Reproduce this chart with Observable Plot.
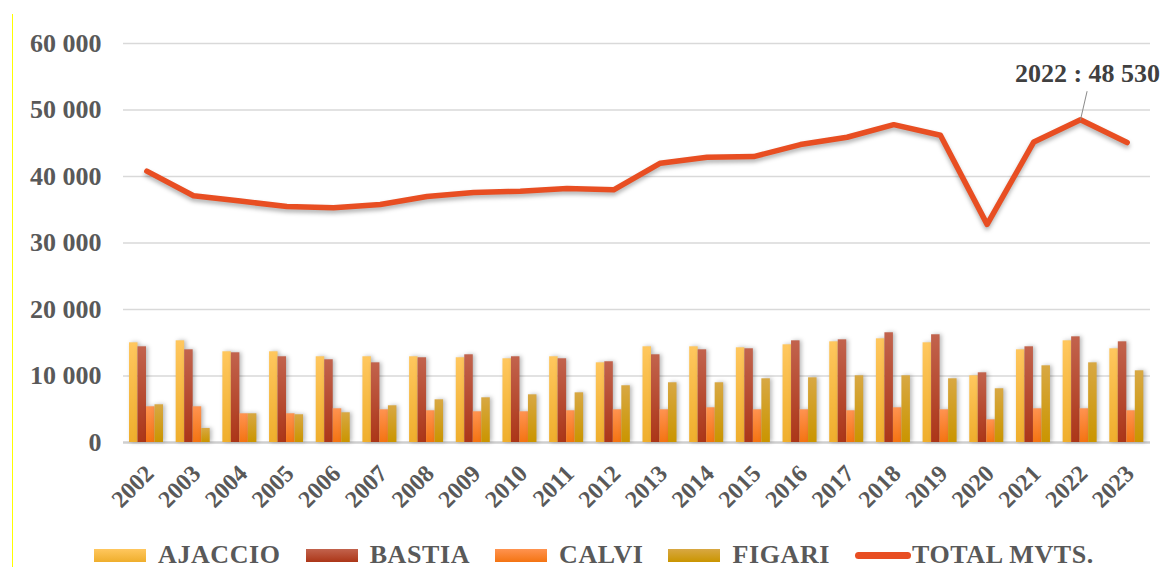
<!DOCTYPE html>
<html>
<head>
<meta charset="utf-8">
<script src="https://cdn.jsdelivr.net/npm/d3@7"></script>
<script src="https://cdn.jsdelivr.net/npm/@observablehq/plot@0.6"></script>
<style>
  body { margin: 0; background: #ffffff; }
  #wrap { position: relative; width: 1163px; height: 567px; font-family: "Liberation Serif", "Times New Roman", serif; }
  #yline { position: absolute; left: 12px; top: 14px; width: 1px; height: 553px; background: #ffff00; }
  #chart { position: absolute; left: 0; top: 0; }
  #legend { position: absolute; left: 94px; top: 538px; height: 34px; display: flex; align-items: center;
            font-size: 26px; line-height: 34px; font-weight: bold; color: #595959; white-space: nowrap; letter-spacing: 0.6px; }
  .item { display: flex; align-items: center; margin-right: 25px; }
  .sw { width: 52px; height: 13px; margin-right: 12px; }
  .ln { width: 56px; height: 7px; border-radius: 3.5px; margin-right: 1px; background: #E84E22; }
</style>
</head>
<body>
<div id="wrap">
  <div id="chart"></div>
  <div id="yline"></div>
  <div id="legend"></div>
</div>
<script>
// ---- data ----
const years = ["2002","2003","2004","2005","2006","2007","2008","2009","2010","2011","2012",
               "2013","2014","2015","2016","2017","2018","2019","2020","2021","2022","2023"];
const ajaccio = [14990,15290,13640,13640,12890,12890,12890,12740,12590,12890,11980,
                 14390,14390,14240,14690,15140,15590,14990,10030,13940,15290,14090];
const bastia  = [14390,13940,13490,12890,12440,11980,12740,13190,12890,12590,12140,
                 13190,13940,14090,15290,15440,16500,16200,10480,14390,15890,15140];
const calvi   = [5370,5370,4320,4320,5070,4920,4770,4620,4620,4770,4920,
                 4920,5220,4920,4920,4770,5220,4920,3410,5070,5070,4770];
const figari  = [5670,2110,4320,4170,4470,5520,6420,6720,7170,7470,8530,
                 8980,8980,9580,9730,10030,10030,9580,8080,11530,11980,10780];
const total   = [40800,37100,36300,35500,35300,35800,37000,37600,37800,38200,38000,
                 42000,42900,43000,44800,45900,47800,46200,32800,45200,48530,45100];
const yTicks = [0,10000,20000,30000,40000,50000,60000];
const seriesNames = ["AJACCIO","BASTIA","CALVI","FIGARI","TOTAL MVTS."];
const annotationYear = "2022";
const annotationValue = 48530;

// ---- styles ----
const gradients = [
  {id: "gAj", top: "#FFC75E", bottom: "#EFAE2C"},
  {id: "gBa", top: "#C2634D", bottom: "#AC3618"},
  {id: "gCa", top: "#FF9350", bottom: "#F47412"},
  {id: "gFi", top: "#D8A843", bottom: "#CA9500"}
];
const lineColor = "#E84E22";
const textColor = "#595959";

const rows = years.map((year, i) => ({year, ajaccio: ajaccio[i], bastia: bastia[i], calvi: calvi[i], figari: figari[i], total: total[i]}));
const annot = [{year: annotationYear, value: annotationValue}];

const loc = d3.formatLocale({decimal: ",", thousands: " ", grouping: [3], currency: ["", ""]});
const fmt = loc.format(",d");

const bandW = (1163 - 123 - 13) / years.length;
const barW = 8.5, groupStart = 6;
function slot(k) { return {insetLeft: groupStart + k * barW, insetRight: bandW - (groupStart + (k + 1) * barW)}; }
const keys = ["ajaccio","bastia","calvi","figari"];

const chart = Plot.plot({
  width: 1163,
  height: 520,
  marginLeft: 123,
  marginRight: 13,
  marginTop: 43,
  marginBottom: 78,
  style: {fontFamily: '"Liberation Serif", "Times New Roman", serif', background: "transparent", overflow: "visible"},
  x: {domain: years, padding: 0, round: false, label: null},
  y: {domain: [0, 60000], label: null},
  marks: [
    Plot.gridY(yTicks.filter(d => d > 0), {stroke: "#d9d9d9", strokeOpacity: 1, strokeWidth: 1.5}),
    Plot.ruleY([0], {stroke: "#cfcfcf", strokeWidth: 2.5}),
    ...keys.map((k, i) => Plot.barY(rows, {x: "year", y: k, fill: `url(#${gradients[i].id})`, ...slot(i)})),
    Plot.line(rows, {x: "year", y: "total", stroke: lineColor, strokeWidth: 5.5, strokeLinecap: "round", strokeLinejoin: "round"}),
    Plot.axisY({ticks: yTicks, tickSize: 0, tickPadding: 22, tickFormat: fmt, fontSize: 26, fontWeight: "bold", fill: textColor}),
    Plot.axisX({tickSize: 0, tickRotate: -45, tickPadding: 27, dx: 3, fontSize: 24, fontWeight: "bold", fill: textColor}),
    Plot.vector(annot, {x: "year", y: "value", length: 29, rotate: 13, anchor: "start", stroke: "#8c8c8c", strokeWidth: 1,
      shape: {draw(ctx, l) { ctx.moveTo(0, 0); ctx.lineTo(0, -l); }}}),
    Plot.text(annot, {x: "year", y: "value", text: d => `${d.year} : ${fmt(d.value)}`, dx: 7, dy: -46,
      fontSize: 26, fontWeight: "bold", fill: "#404040"})
  ]
});

// gradients & shadows
const svg = d3.select(chart);
const defs = svg.insert("defs", ":first-child");
gradients.forEach(g => {
  const lg = defs.append("linearGradient").attr("id", g.id).attr("x1", 0).attr("y1", 0).attr("x2", 0).attr("y2", 1);
  lg.append("stop").attr("offset", "0%").attr("stop-color", g.top);
  lg.append("stop").attr("offset", "100%").attr("stop-color", g.bottom);
});
svg.selectAll('g[aria-label="bar"]').style("filter", "drop-shadow(2px 0px 2px rgba(0,0,0,0.28))");
svg.selectAll('g[aria-label="line"]').style("filter", "drop-shadow(0px 3px 2px rgba(0,0,0,0.3))");
document.getElementById("chart").appendChild(chart);

// legend
const legend = document.getElementById("legend");
seriesNames.forEach((name, i) => {
  const item = document.createElement("div");
  item.className = "item";
  const sw = document.createElement("div");
  if (i < gradients.length) {
    sw.className = "sw";
    sw.style.background = `linear-gradient(${gradients[i].top}, ${gradients[i].bottom})`;
  } else {
    sw.className = "ln";
  }
  const t = document.createElement("span");
  t.textContent = name;
  item.appendChild(sw);
  item.appendChild(t);
  legend.appendChild(item);
});
</script>
</body>
</html>
